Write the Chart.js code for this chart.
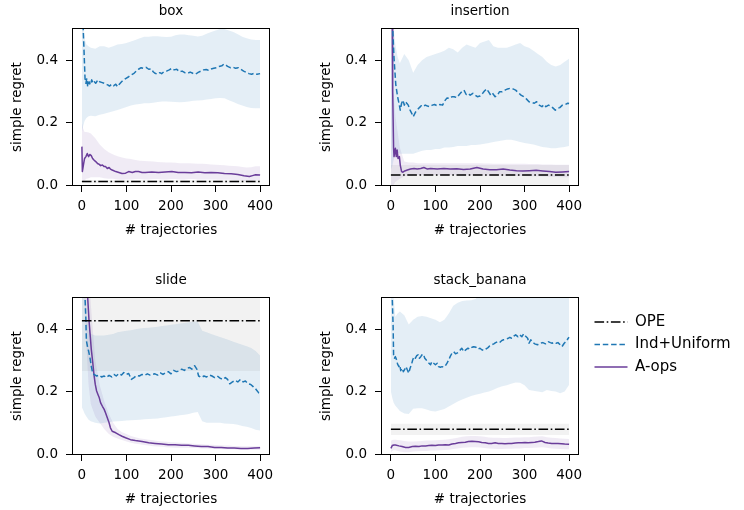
<!DOCTYPE html>
<html>
<head>
<meta charset="utf-8">
<script src="https://cdn.jsdelivr.net/npm/chart.js@4.4.0/dist/chart.umd.min.js"></script>
<style>
  html, body { margin: 0; padding: 0; background: #fff; }
  #fig { position: relative; width: 744px; height: 510px; overflow: hidden; }
  #fig canvas { position: absolute; }
</style>
</head>
<body>
<div id="fig">
  <canvas id="p0" width="290" height="260" style="left:0px;top:0px"></canvas>
  <canvas id="p1" width="290" height="260" style="left:309px;top:0px"></canvas>
  <canvas id="p2" width="290" height="260" style="left:0px;top:269px"></canvas>
  <canvas id="p3" width="290" height="260" style="left:309px;top:269px"></canvas>
  <canvas id="legend" width="156" height="170" style="left:587px;top:307px"></canvas>
</div>
<script>
const panelNames = ['box', 'insertion', 'slide', 'stack_banana'];
const xTicks = [0, 100, 200, 300, 400];
const yTicks = [0.0, 0.2, 0.4];

// OPE: constant estimate per task, with its std band
const opeX = [0, 400];
const opeMean = [0.011, 0.032, 0.427, 0.079];
const opeLo = [0.006, 0.0, 0.266, 0.061];
const opeHi = [0.016, 0.064, 0.6, 0.097];

// x grid for the shaded bands
const bandX = [0, 3, 6, 10, 15, 20,
  30, 40, 50, 60, 70, 80, 90, 100,
  110, 120, 130, 140, 150, 160, 170, 180, 190, 200,
  210, 220, 230, 240, 250, 260, 270, 280, 290, 300,
  310, 320, 330, 340, 350, 360, 370, 380, 390, 400];

// ---- box ----
const boxIndX = [1, 3, 7, 9, 11, 13, 16, 19, 22, 25, 28, 31, 36, 40, 44, 50, 53, 58, 62, 67,
  71, 76, 80, 84, 89, 94, 99, 105, 111, 117, 122, 127, 133, 138, 144, 150, 156, 160, 164, 170,
  175, 179, 184, 190, 196, 202, 207, 213, 219, 225, 231, 237, 243, 249, 255, 261, 267, 273, 279, 284,
  290, 296, 302, 308, 314, 319, 323, 327, 333, 339, 345, 351, 357, 363, 369, 375, 381, 387, 393, 400];
const boxIndY = [0.62, 0.497, 0.342, 0.326, 0.342, 0.315, 0.331, 0.321, 0.337, 0.326,
  0.331, 0.326, 0.337, 0.331, 0.329, 0.326, 0.323, 0.321, 0.317, 0.323,
  0.318, 0.323, 0.315, 0.323, 0.331, 0.337, 0.342, 0.347, 0.353, 0.358,
  0.365, 0.371, 0.376, 0.374, 0.377, 0.371, 0.372, 0.363, 0.358, 0.355,
  0.36, 0.357, 0.363, 0.365, 0.369, 0.374, 0.369, 0.371, 0.363, 0.365,
  0.36, 0.358, 0.362, 0.358, 0.355, 0.361, 0.365, 0.369, 0.37, 0.368,
  0.372, 0.374, 0.376, 0.38, 0.382, 0.388, 0.385, 0.38, 0.376, 0.378,
  0.374, 0.376, 0.371, 0.365, 0.361, 0.357, 0.355, 0.358, 0.355, 0.357];
const boxIndHi = [0.55, 0.52, 0.47, 0.45, 0.445, 0.44,
  0.437, 0.445, 0.445, 0.44, 0.445, 0.45, 0.452, 0.455,
  0.46, 0.465, 0.47, 0.475, 0.475, 0.477, 0.477, 0.475, 0.474, 0.475,
  0.48, 0.482, 0.482, 0.48, 0.478, 0.476, 0.478, 0.485, 0.49, 0.495,
  0.5, 0.5, 0.495, 0.49, 0.483, 0.475, 0.47, 0.466, 0.465, 0.465];
const boxIndLo = [0.17, 0.19, 0.205, 0.215, 0.22, 0.222,
  0.22, 0.225, 0.228, 0.232, 0.236, 0.24, 0.245, 0.25,
  0.255, 0.258, 0.26, 0.262, 0.262, 0.264, 0.266, 0.268, 0.268, 0.267,
  0.266, 0.265, 0.266, 0.268, 0.27, 0.271, 0.272, 0.274, 0.276, 0.278,
  0.279, 0.278, 0.272, 0.266, 0.26, 0.255, 0.25, 0.247, 0.246, 0.246];
const boxAopsX = [0, 1, 4, 6, 9, 12, 15, 18, 21, 24, 27, 31, 35, 39, 42, 46, 50, 53, 57, 61,
  64, 68, 76, 83, 90, 98, 105, 113, 120, 127, 135, 142, 157, 172, 187, 202, 216, 231, 246, 261,
  276, 290, 305, 320, 335, 350, 364, 376, 383, 390, 400];
const boxAopsY = [0.123, 0.043, 0.069, 0.085, 0.091, 0.101, 0.091, 0.098, 0.094, 0.085,
  0.08, 0.075, 0.069, 0.066, 0.062, 0.064, 0.059, 0.059, 0.053, 0.056,
  0.051, 0.048, 0.043, 0.04, 0.037, 0.038, 0.043, 0.04, 0.043, 0.043,
  0.04, 0.04, 0.042, 0.04, 0.042, 0.043, 0.04, 0.04, 0.039, 0.042,
  0.039, 0.04, 0.039, 0.037, 0.036, 0.034, 0.03, 0.027, 0.03, 0.033, 0.032];
const boxAopsHi = [0.2, 0.18, 0.17, 0.17, 0.168, 0.165,
  0.15, 0.13, 0.115, 0.105, 0.098, 0.092, 0.088, 0.085,
  0.083, 0.08, 0.078, 0.077, 0.076, 0.075, 0.074, 0.073, 0.072, 0.072,
  0.071, 0.07, 0.07, 0.07, 0.069, 0.068, 0.068, 0.067, 0.066, 0.065,
  0.064, 0.063, 0.062, 0.061, 0.06, 0.058, 0.056, 0.057, 0.06, 0.06];
const boxAopsLo = [0.02, 0.01, 0.015, 0.02, 0.022, 0.025,
  0.025, 0.025, 0.022, 0.02, 0.02, 0.018, 0.017, 0.018,
  0.018, 0.019, 0.019, 0.018, 0.018, 0.019, 0.019, 0.018, 0.018, 0.019,
  0.019, 0.018, 0.018, 0.019, 0.019, 0.018, 0.018, 0.018, 0.018, 0.018,
  0.017, 0.017, 0.017, 0.016, 0.015, 0.014, 0.012, 0.012, 0.015, 0.016];

// ---- insertion ----
const insIndX = [2, 4, 7, 11, 15, 19, 21, 24, 27, 30, 33, 36, 39, 43, 47, 50, 55, 59, 64, 68,
  73, 77, 82, 87, 93, 98, 104, 110, 116, 122, 126, 132, 137, 142, 148, 154, 159, 164, 169, 173,
  178, 184, 189, 194, 200, 206, 210, 215, 219, 224, 228, 234, 239, 244, 250, 256, 262, 268, 274, 280,
  286, 292, 298, 304, 310, 316, 322, 327, 333, 339, 344, 348, 354, 359, 363, 369, 374, 379, 385, 391,
  397, 400];
const insIndY = [0.6, 0.502, 0.406, 0.321, 0.283, 0.256, 0.24, 0.262, 0.272, 0.256,
  0.267, 0.261, 0.256, 0.24, 0.229, 0.219, 0.233, 0.24, 0.248, 0.254,
  0.251, 0.256, 0.253, 0.251, 0.256, 0.258, 0.254, 0.258, 0.256, 0.272,
  0.279, 0.277, 0.283, 0.283, 0.28, 0.291, 0.299, 0.304, 0.29, 0.294,
  0.288, 0.294, 0.288, 0.283, 0.285, 0.294, 0.301, 0.308, 0.299, 0.288,
  0.294, 0.283, 0.288, 0.299, 0.299, 0.304, 0.308, 0.31, 0.308, 0.304,
  0.296, 0.288, 0.283, 0.276, 0.267, 0.265, 0.262, 0.267, 0.256, 0.251,
  0.258, 0.251, 0.256, 0.253, 0.248, 0.24, 0.246, 0.248, 0.256, 0.258,
  0.262, 0.261];
const insIndHi = [0.6, 0.55, 0.5, 0.45, 0.41, 0.39,
  0.42, 0.4, 0.36, 0.385, 0.4, 0.41, 0.415, 0.42,
  0.425, 0.43, 0.44, 0.435, 0.425, 0.44, 0.45, 0.445, 0.44, 0.455,
  0.46, 0.465, 0.445, 0.44, 0.44, 0.44, 0.445, 0.45, 0.455, 0.445,
  0.44, 0.43, 0.42, 0.41, 0.395, 0.385, 0.38, 0.385, 0.395, 0.405];
const insIndLo = [0.05, 0.06, 0.08, 0.1, 0.105, 0.1,
  0.1, 0.1, 0.1, 0.105, 0.11, 0.112, 0.112, 0.115,
  0.115, 0.12, 0.12, 0.122, 0.125, 0.125, 0.125, 0.128, 0.128, 0.13,
  0.132, 0.135, 0.138, 0.14, 0.143, 0.145, 0.145, 0.142, 0.138, 0.135,
  0.132, 0.13, 0.126, 0.122, 0.12, 0.118, 0.118, 0.12, 0.122, 0.125];
const insAopsX = [0, 3, 4, 6, 7, 10, 12, 14, 16, 19, 21, 24, 27, 31, 37, 44, 52, 59, 67, 74,
  82, 89, 104, 119, 133, 148, 163, 178, 193, 207, 222, 237, 252, 267, 282, 296, 311, 326, 341, 356,
  370, 385, 400];
const insAopsY = [0.6, 0.55, 0.299, 0.118, 0.091, 0.118, 0.091, 0.112, 0.085, 0.091,
  0.064, 0.043, 0.041, 0.045, 0.048, 0.051, 0.053, 0.051, 0.053, 0.056,
  0.051, 0.053, 0.051, 0.053, 0.051, 0.052, 0.05, 0.051, 0.056, 0.051,
  0.049, 0.049, 0.051, 0.048, 0.046, 0.045, 0.046, 0.047, 0.045, 0.043,
  0.041, 0.042, 0.043];
const insAopsHi = [0.6, 0.5, 0.3, 0.22, 0.17, 0.12,
  0.075, 0.072, 0.072, 0.07, 0.07, 0.07, 0.07, 0.07,
  0.07, 0.07, 0.07, 0.07, 0.07, 0.07, 0.07, 0.07, 0.07, 0.07,
  0.069, 0.069, 0.068, 0.068, 0.068, 0.068, 0.068, 0.068, 0.068, 0.068,
  0.067, 0.067, 0.067, 0.066, 0.066, 0.066, 0.065, 0.065, 0.065, 0.065];
const insAopsLo = [0.0, 0.0, 0.0, 0.01, 0.015, 0.02,
  0.028, 0.03, 0.032, 0.032, 0.032, 0.032, 0.032, 0.032,
  0.032, 0.032, 0.032, 0.032, 0.031, 0.031, 0.031, 0.031, 0.031, 0.031,
  0.03, 0.03, 0.03, 0.03, 0.03, 0.03, 0.03, 0.029, 0.029, 0.029,
  0.028, 0.028, 0.028, 0.027, 0.027, 0.026, 0.026, 0.025, 0.025, 0.025];

// ---- slide ----
const slideIndX = [6, 7, 9, 10, 13, 15, 18, 21, 24, 27, 33, 39, 44, 50, 55, 61, 67, 72, 77, 83,
  89, 94, 99, 105, 111, 117, 123, 129, 135, 141, 147, 153, 159, 164, 170, 176, 182, 188, 194, 200,
  206, 212, 218, 224, 230, 236, 242, 247, 253, 258, 262, 268, 274, 280, 286, 292, 298, 304, 310, 316,
  322, 327, 332, 338, 344, 350, 356, 362, 367, 373, 379, 385, 391, 397, 400];
const slideIndY = [0.6, 0.502, 0.427, 0.363, 0.341, 0.33, 0.309, 0.282, 0.261, 0.255,
  0.25, 0.253, 0.247, 0.25, 0.245, 0.252, 0.247, 0.255, 0.25, 0.258,
  0.253, 0.261, 0.255, 0.258, 0.239, 0.245, 0.252, 0.25, 0.255, 0.252,
  0.257, 0.253, 0.255, 0.257, 0.253, 0.26, 0.255, 0.261, 0.264, 0.257,
  0.268, 0.264, 0.266, 0.272, 0.268, 0.275, 0.277, 0.272, 0.283, 0.272,
  0.25, 0.245, 0.25, 0.247, 0.253, 0.25, 0.245, 0.25, 0.243, 0.239,
  0.245, 0.239, 0.225, 0.231, 0.236, 0.231, 0.239, 0.231, 0.234, 0.225,
  0.223, 0.215, 0.207, 0.196, 0.195];
const slideIndHi = [0.6, 0.6, 0.55, 0.45, 0.4, 0.385,
  0.38, 0.38, 0.38, 0.382, 0.385, 0.39, 0.393, 0.395,
  0.397, 0.4, 0.402, 0.404, 0.405, 0.406, 0.408, 0.41, 0.412, 0.414,
  0.416, 0.418, 0.42, 0.422, 0.425, 0.425, 0.395, 0.39, 0.385, 0.38,
  0.375, 0.37, 0.365, 0.36, 0.355, 0.35, 0.345, 0.34, 0.33, 0.315];
const slideIndLo = [0.15, 0.14, 0.13, 0.12, 0.11, 0.105,
  0.1, 0.098, 0.1, 0.102, 0.104, 0.105, 0.106, 0.107,
  0.108, 0.109, 0.11, 0.111, 0.112, 0.113, 0.114, 0.116, 0.118, 0.12,
  0.122, 0.124, 0.126, 0.128, 0.132, 0.135, 0.105, 0.1, 0.1, 0.1,
  0.1, 0.098, 0.097, 0.096, 0.094, 0.09, 0.087, 0.083, 0.078, 0.075];
const slideAopsX = [10, 13, 16, 19, 21, 24, 27, 30, 33, 36, 39, 42, 46, 50, 53, 57, 61, 64, 68, 76,
  83, 90, 98, 109, 120, 135, 150, 164, 179, 194, 209, 224, 239, 253, 268, 283, 298, 313, 327, 342,
  357, 372, 387, 400];
const slideAopsY = [0.6, 0.5, 0.427, 0.373, 0.336, 0.298, 0.255, 0.223, 0.202, 0.191,
  0.18, 0.164, 0.153, 0.143, 0.132, 0.116, 0.1, 0.084, 0.073, 0.068,
  0.062, 0.057, 0.052, 0.046, 0.043, 0.04, 0.036, 0.034, 0.032, 0.03,
  0.03, 0.028, 0.028, 0.026, 0.024, 0.024, 0.021, 0.021, 0.019, 0.019,
  0.018, 0.018, 0.019, 0.02];
const slideAopsHi = [0.6, 0.6, 0.6, 0.6, 0.6, 0.48,
  0.3, 0.22, 0.17, 0.13, 0.1, 0.08, 0.07, 0.064,
  0.058, 0.054, 0.05, 0.048, 0.046, 0.044, 0.042, 0.04, 0.039, 0.038,
  0.037, 0.036, 0.035, 0.034, 0.033, 0.032, 0.031, 0.03, 0.03, 0.029,
  0.028, 0.027, 0.027, 0.026, 0.026, 0.025, 0.025, 0.025, 0.025, 0.026];
const slideAopsLo = [0.6, 0.6, 0.5, 0.35, 0.22, 0.16,
  0.12, 0.1, 0.08, 0.065, 0.055, 0.05, 0.045, 0.04,
  0.036, 0.033, 0.031, 0.029, 0.027, 0.025, 0.024, 0.023, 0.022, 0.021,
  0.02, 0.02, 0.02, 0.02, 0.019, 0.019, 0.018, 0.018, 0.017, 0.016,
  0.016, 0.015, 0.015, 0.015, 0.014, 0.014, 0.014, 0.014, 0.014, 0.014];

// ---- stack_banana ----
const stackIndX = [2, 3, 5, 6, 8, 10, 13, 15, 18, 20, 22, 25, 28, 31, 34, 37, 40, 43, 46, 49,
  52, 55, 58, 61, 64, 67, 70, 73, 76, 79, 82, 89, 92, 96, 100, 104, 107, 111, 115, 118,
  122, 126, 130, 133, 137, 141, 145, 151, 156, 159, 164, 168, 173, 177, 182, 186, 191, 195, 200, 204,
  209, 213, 218, 222, 226, 231, 235, 240, 244, 249, 253, 258, 262, 267, 271, 276, 280, 285, 289, 294,
  298, 302, 307, 310, 314, 319, 323, 329, 335, 341, 347, 353, 358, 362, 366, 371, 375, 380, 384, 389,
  393, 398, 400];
const stackIndY = [0.6, 0.5, 0.408, 0.318, 0.307, 0.312, 0.301, 0.288, 0.28, 0.285,
  0.267, 0.275, 0.264, 0.271, 0.28, 0.269, 0.259, 0.275, 0.286, 0.302,
  0.312, 0.307, 0.315, 0.318, 0.307, 0.312, 0.318, 0.32, 0.307, 0.302,
  0.296, 0.286, 0.296, 0.291, 0.286, 0.291, 0.28, 0.278, 0.28, 0.278,
  0.282, 0.291, 0.302, 0.312, 0.323, 0.328, 0.321, 0.325, 0.334, 0.339,
  0.328, 0.334, 0.339, 0.336, 0.342, 0.344, 0.342, 0.336, 0.339, 0.334,
  0.332, 0.336, 0.341, 0.347, 0.35, 0.353, 0.357, 0.36, 0.357, 0.364,
  0.366, 0.368, 0.37, 0.374, 0.371, 0.378, 0.382, 0.376, 0.382, 0.376,
  0.385, 0.378, 0.371, 0.355, 0.366, 0.357, 0.353, 0.35, 0.355, 0.357,
  0.353, 0.36, 0.357, 0.355, 0.358, 0.355, 0.357, 0.35, 0.344, 0.355,
  0.36, 0.371, 0.374];
const stackIndHi = [0.6, 0.6, 0.5, 0.44, 0.45, 0.457,
  0.445, 0.415, 0.43, 0.44, 0.442, 0.44, 0.435, 0.43,
  0.422, 0.43, 0.45, 0.475, 0.485, 0.49, 0.492, 0.493, 0.497, 0.51,
  0.53, 0.55, 0.55, 0.55, 0.55, 0.55, 0.55, 0.55, 0.55, 0.55,
  0.55, 0.55, 0.55, 0.55, 0.55, 0.55, 0.55, 0.55, 0.55, 0.55];
const stackIndLo = [0.2, 0.18, 0.165, 0.155, 0.147, 0.138,
  0.13, 0.128, 0.145, 0.147, 0.147, 0.143, 0.138, 0.136,
  0.14, 0.144, 0.152, 0.16, 0.168, 0.175, 0.18, 0.186, 0.19, 0.193,
  0.197, 0.2, 0.206, 0.212, 0.217, 0.22, 0.225, 0.229, 0.228, 0.22,
  0.205, 0.203, 0.2, 0.198, 0.205, 0.202, 0.2, 0.195, 0.2, 0.222];
const stackAopsX = [0, 3, 7, 10, 18, 25, 33, 40, 48, 55, 63, 70, 78, 85, 92, 100, 107, 115, 122, 130,
  137, 145, 152, 159, 167, 174, 182, 189, 197, 204, 212, 219, 226, 234, 241, 249, 256, 264, 271, 279,
  286, 294, 301, 308, 316, 323, 331, 338, 346, 353, 361, 368, 375, 383, 390, 400];
const stackAopsY = [0.018, 0.027, 0.029, 0.029, 0.026, 0.024, 0.021, 0.021, 0.024, 0.025,
  0.024, 0.026, 0.026, 0.027, 0.028, 0.027, 0.029, 0.029, 0.03, 0.029,
  0.032, 0.034, 0.036, 0.037, 0.038, 0.04, 0.041, 0.04, 0.039, 0.037,
  0.036, 0.034, 0.034, 0.036, 0.034, 0.034, 0.033, 0.034, 0.034, 0.035,
  0.036, 0.036, 0.037, 0.036, 0.037, 0.038, 0.04, 0.042, 0.037, 0.035,
  0.034, 0.034, 0.034, 0.033, 0.032, 0.031];
const stackAopsHi = [0.042, 0.045, 0.046, 0.046, 0.045, 0.044,
  0.042, 0.04, 0.04, 0.041, 0.042, 0.043, 0.043, 0.044,
  0.045, 0.046, 0.047, 0.05, 0.052, 0.055, 0.057, 0.058, 0.058, 0.057,
  0.055, 0.053, 0.052, 0.052, 0.051, 0.051, 0.052, 0.053, 0.053, 0.054,
  0.054, 0.055, 0.056, 0.057, 0.054, 0.052, 0.051, 0.05, 0.049, 0.048];
const stackAopsLo = [0.005, 0.01, 0.012, 0.012, 0.01, 0.008,
  0.006, 0.006, 0.008, 0.009, 0.01, 0.01, 0.011, 0.011,
  0.012, 0.013, 0.014, 0.016, 0.018, 0.02, 0.021, 0.022, 0.022, 0.021,
  0.019, 0.018, 0.017, 0.016, 0.016, 0.017, 0.017, 0.018, 0.018, 0.019,
  0.019, 0.02, 0.021, 0.022, 0.02, 0.018, 0.017, 0.016, 0.015, 0.015];

const panels = [
  {indX: boxIndX, indY: boxIndY, indHi: boxIndHi, indLo: boxIndLo,
   aopsX: boxAopsX, aopsY: boxAopsY, aopsHi: boxAopsHi, aopsLo: boxAopsLo},
  {indX: insIndX, indY: insIndY, indHi: insIndHi, indLo: insIndLo,
   aopsX: insAopsX, aopsY: insAopsY, aopsHi: insAopsHi, aopsLo: insAopsLo},
  {indX: slideIndX, indY: slideIndY, indHi: slideIndHi, indLo: slideIndLo,
   aopsX: slideAopsX, aopsY: slideAopsY, aopsHi: slideAopsHi, aopsLo: slideAopsLo},
  {indX: stackIndX, indY: stackIndY, indHi: stackIndHi, indLo: stackIndLo,
   aopsX: stackAopsX, aopsY: stackAopsY, aopsHi: stackAopsHi, aopsLo: stackAopsLo},
];

const BLACK = '#000000';
const BLUE = '#1f77b4';
const PURPLE = '#6a3d9a';
const GRAY_FILL = 'rgba(128, 128, 128, 0.10)';
const BLUE_FILL = 'rgba(31, 119, 180, 0.12)';
const PURPLE_FILL = 'rgba(106, 61, 154, 0.10)';
const DASHDOT = [9.6, 2.6, 1.6, 2.6];
const DASHED = [5.5, 2.8];

Chart.defaults.font.family = 'DejaVu Sans';
Chart.defaults.font.size = 13.5;
Chart.defaults.color = '#000';

function pts(xs, ys) {
  return xs.map((x, i) => ({x: x, y: ys[i]}));
}

function band(xs, ys, fill, color) {
  return {data: pts(xs, ys), fill: fill, backgroundColor: color,
    borderColor: 'transparent', borderWidth: 0, pointRadius: 0};
}

function line(label, xs, ys, color, dash) {
  return {label: label, data: pts(xs, ys), borderColor: color, borderWidth: 1.5,
    borderDash: dash, borderJoinStyle: 'round', pointRadius: 0, fill: false};
}

// matplotlib-style box around the axes
const frame = {
  id: 'frame',
  afterDraw(chart) {
    const {ctx, chartArea: a} = chart;
    ctx.save();
    ctx.strokeStyle = '#000';
    ctx.lineWidth = 1;
    ctx.strokeRect(a.left - 0.5, a.top - 0.5, a.right - a.left + 1, a.bottom - a.top + 1);
    ctx.restore();
  }
};

const tickGrid = {display: true, drawOnChartArea: false, drawTicks: true,
  tickLength: 7, color: '#000', lineWidth: 1};

function drawPanel(i) {
  const p = panels[i];
  const oX = opeX;
  new Chart(document.getElementById('p' + i), {
    type: 'line',
    data: {
      datasets: [
        line('OPE', oX, [opeMean[i], opeMean[i]], BLACK, DASHDOT),
        line('Ind+Uniform', p.indX, p.indY, BLUE, DASHED),
        line('A-ops', p.aopsX, p.aopsY, PURPLE, []),
        band(oX, [opeHi[i], opeHi[i]], '+1', GRAY_FILL),
        band(oX, [opeLo[i], opeLo[i]], false, GRAY_FILL),
        band(bandX, p.indHi, '+1', BLUE_FILL),
        band(bandX, p.indLo, false, BLUE_FILL),
        band(bandX, p.aopsHi, '+1', PURPLE_FILL),
        band(bandX, p.aopsLo, false, PURPLE_FILL),
      ]
    },
    options: {
      responsive: false,
      animation: false,
      events: [],
      layout: {padding: {left: 0, top: 0, right: 21, bottom: 21.9}},
      plugins: {
        legend: {display: false},
        tooltip: {enabled: false},
        title: {
          display: true,
          fullSize: false,
          text: panelNames[i],
          color: '#000',
          font: {size: 13.5, weight: 'normal'},
          padding: {top: 3, bottom: 9.8}
        }
      },
      scales: {
        x: {
          type: 'linear',
          min: -20,
          max: 420,
          afterBuildTicks: (s) => { s.ticks = xTicks.map(v => ({value: v})); },
          afterFit: (s) => { s.height = 53.1; },
          grid: tickGrid,
          border: {display: false},
          ticks: {padding: 6, autoSkip: false, maxRotation: 0, callback: (v) => String(v)},
          title: {display: true, text: '# trajectories', padding: {top: 0, bottom: 0}}
        },
        y: {
          type: 'linear',
          min: 0,
          max: 0.5,
          afterBuildTicks: (s) => { s.ticks = yTicks.map(v => ({value: v})); },
          afterFit: (s) => { s.width = 73; },
          grid: tickGrid,
          border: {display: false},
          ticks: {padding: 8, autoSkip: false, callback: (v) => Number(v).toFixed(1)},
          title: {display: true, text: 'simple regret', padding: {top: 8.9, bottom: 0}}
        }
      }
    },
    plugins: [frame]
  });
}

for (let i = 0; i < panels.length; i++) drawPanel(i);

// legend only
new Chart(document.getElementById('legend'), {
  type: 'line',
  data: {
    datasets: [
      {label: 'OPE', data: [], borderColor: BLACK, borderWidth: 1.5, borderDash: DASHDOT},
      {label: 'Ind+Uniform', data: [], borderColor: BLUE, borderWidth: 1.5, borderDash: DASHED},
      {label: 'A-ops', data: [], borderColor: PURPLE, borderWidth: 1.5, borderDash: []},
    ]
  },
  options: {
    responsive: false,
    animation: false,
    events: [],
    layout: {padding: 0},
    scales: {x: {display: false}, y: {display: false}},
    plugins: {
      tooltip: {enabled: false},
      legend: {
        position: 'top',
        align: 'start',
        labels: {
          usePointStyle: true,
          pointStyle: 'line',
          pointStyleWidth: 33,
          padding: 7.5,
          color: '#000',
          font: {size: 15},
          generateLabels: (chart) => chart.data.datasets.map((ds, i) => ({
            text: ds.label,
            datasetIndex: i,
            strokeStyle: ds.borderColor,
            fillStyle: ds.borderColor,
            lineWidth: ds.borderWidth,
            lineDash: ds.borderDash,
            pointStyle: 'line',
            hidden: false,
            fontColor: '#000'
          }))
        }
      }
    }
  }
});
</script>
</body>
</html>
